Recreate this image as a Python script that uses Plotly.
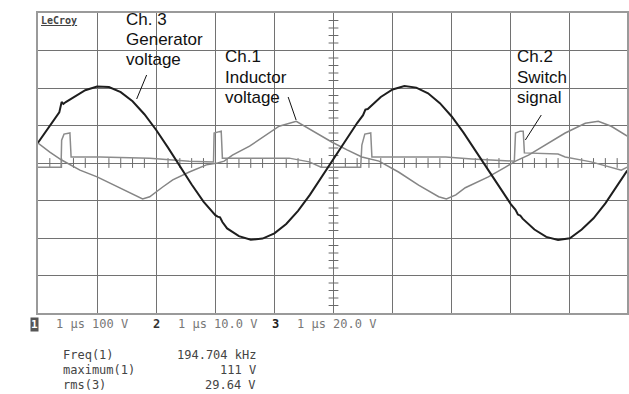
import plotly.graph_objects as go

# ---------------- canvas / graticule geometry ----------------
W, H = 629, 394
ML, MR, MT, MB = 38, 0, 13, 81
PW = W - ML - MR          # plot width in px
PH = H - MT - MB          # plot height in px (8 divisions)
DIV_PX = 59.3             # horizontal px per division
X_MAX = PW / DIV_PX       # visible divisions (grid runs past right edge)

# ---------------- data (time in µs, voltage in V) ----------------
# Ch.3 generator voltage, 20 V/div
ch3_t = [0.0, 0.2, 0.36, 0.40, 0.43, 0.47, 0.6, 0.8, 1.0, 1.2, 1.4, 1.6, 1.8,
         2.0, 2.2, 2.4, 2.6, 2.8, 3.0, 3.04, 3.08, 3.12, 3.2, 3.4, 3.6, 3.8,
         4.0, 4.2, 4.4, 4.6, 4.8, 5.0, 5.2, 5.4, 5.50, 5.54, 5.58, 5.8, 6.0,
         6.2, 6.4, 6.6, 6.8, 7.0, 7.2, 7.4, 7.6, 7.8, 8.0, 8.08, 8.12, 8.16,
         8.2, 8.4, 8.6, 8.8, 9.0, 9.2, 9.4, 9.6, 9.8, 9.97]
ch3_v = [10.8, 20.0, 27.0, 32.5, 31.5, 32.5, 35.0, 38.8, 40.8, 40.5, 37.8,
         32.9, 26.0, 17.6, 8.2, -1.7, -11.5, -20.6, -27.8, -28.6, -29.0,
         -31.5, -34.9, -39.0, -40.9, -40.3, -37.5, -32.5, -25.5, -17.0, -7.4,
         2.5, 12.3, 21.3, 25.5, 28.5, 28.8, 35.2, 39.2, 41.0, 40.2, 37.2,
         31.9, 24.8, 16.2, 6.7, -3.3, -13.0, -21.9, -25.0, -27.5, -28.0,
         -29.7, -35.5, -39.4, -41.0, -40.1, -35.5, -29.5, -21.5, -12.0, -4.0]

# Ch.1 inductor voltage, 100 V/div
ch1_t = [0.0, 0.20, 0.40, 0.71, 1.0, 1.38, 1.64, 1.77, 1.89, 2.01, 2.11, 2.28,
         2.56, 2.85, 3.04, 3.15, 3.29, 3.58, 3.83, 4.08, 4.37, 4.59, 4.76,
         4.97, 5.23, 5.48, 5.77, 6.10, 6.44, 6.78, 6.91, 7.07, 7.23, 7.62,
         7.91, 8.08, 8.30, 8.58, 8.92, 9.26, 9.48, 9.70, 9.97]
ch1_v = [53, 29, 8, -19, -37, -66, -88, -96, -90, -77, -64, -45, -24, -5, 0,
         5, 21, 45, 72, 98, 111, 90, 74, 56, 35, 16, 5, -24, -59, -90, -96,
         -85, -66, -37, -11, 5, 21, 48, 80, 106, 111, 98, 72]

# Ch.2 switch signal, 10 V/div
ch2_t = [0.0, 0.39, 0.40, 0.44, 0.54, 0.56, 1.05, 1.89, 2.56, 2.97, 2.98,
         3.10, 3.12, 4.25, 4.59, 4.79, 5.46, 5.48, 5.53, 5.63, 5.65, 6.90,
         7.34, 7.91, 8.06, 8.08, 8.16, 8.21, 8.23, 8.80, 8.92, 9.36, 9.70,
         9.87, 9.97]
ch2_v = [-1.1, -1.1, 6.1, 7.7, 8.0, 1.6, 1.6, 1.3, 0.5, 0.3, 8.0, 8.5, 1.3,
         1.3, 0.3, -1.1, -1.1, 4.8, 7.7, 8.0, 1.6, 1.6, 1.1, 0.5, 0.5, 8.0,
         8.5, 8.5, 2.7, 2.4, 1.6, 0.3, -1.3, -1.9, -1.1]

VDIV = {"ch1": 100.0, "ch2": 10.0, "ch3": 20.0}

labels_ch3 = ["Ch. 3", "Generator", "voltage"]
labels_ch1 = ["Ch.1", "Inductor", "voltage"]
labels_ch2 = ["Ch.2", "Switch", "signal"]

strip_texts = ["1 µs 100 V", "1 µs 10.0 V", "1 µs 20.0 V"]
meas_names = ["Freq(1)", "maximum(1)", "rms(3)"]
meas_values = ["194.704 kHz", "111 V", "29.64 V"]


def px_x(x):
    return (x - ML) / PW


def px_y(y):
    return (MT + PH - y) / PH


fig = go.Figure()

# center-axis minor ticks (graticule)
vt = [k * 0.2 for k in range(-19, 20) if k % 5]
ht = [k * 0.2 for k in range(1, 50) if k % 5]
fig.add_trace(go.Scatter(x=[5] * len(vt), y=vt, mode="markers", hoverinfo="skip",
                         marker=dict(symbol="line-ew", size=7,
                                     line=dict(width=1, color="#6a6a6a"))))
fig.add_trace(go.Scatter(x=ht, y=[0] * len(ht), mode="markers", hoverinfo="skip",
                         marker=dict(symbol="line-ns", size=7,
                                     line=dict(width=1, color="#6a6a6a"))))

# waveforms
fig.add_trace(go.Scatter(x=ch2_t, y=[v / VDIV["ch2"] for v in ch2_v], mode="lines",
                         line=dict(color="#8c8c8c", width=1.5)))
fig.add_trace(go.Scatter(x=ch1_t, y=[v / VDIV["ch1"] for v in ch1_v], mode="lines",
                         line=dict(color="#858585", width=1.5)))
fig.add_trace(go.Scatter(x=ch3_t, y=[v / VDIV["ch3"] for v in ch3_v], mode="lines",
                         line=dict(color="#1e1e1e", width=2)))

# trigger marker below graticule and ground marker at left
fig.add_trace(go.Scatter(x=[5], y=[-4.16], mode="markers", cliponaxis=False,
                         marker=dict(symbol="triangle-up", size=6, color="#333")))
fig.add_trace(go.Scatter(x=[-0.06], y=[0.0], mode="markers", cliponaxis=False,
                         marker=dict(symbol="triangle-right", size=6, color="#333")))

annotations = []


def ann(text, x, y, size, color, family, xanchor="left", **kw):
    d = dict(text=text, x=px_x(x), y=px_y(y), xref="paper", yref="paper",
             showarrow=False, xanchor=xanchor, yanchor="middle",
             font=dict(size=size, color=color, family=family))
    d.update(kw)
    annotations.append(d)


SANS = "Liberation Sans, Arial, sans-serif"
MONO = "DejaVu Sans Mono, monospace"

for i, t in enumerate(labels_ch3):
    ann(t, 124, 19 + 20 * i, 17, "#111", SANS)
for i, t in enumerate(labels_ch1):
    ann(t, 224, 57 + 20 * i, 17, "#111", SANS)
for i, t in enumerate(labels_ch2):
    ann(t, 517, 57 + 20 * i, 17, "#111", SANS)

ann("<b><u>LeCroy</u></b>", 39, 21, 10, "#444", MONO)

# channel strip
ann("<b>1</b>", 30, 324, 11, "#ffffff", MONO, bgcolor="#555", borderpad=0)
ann(strip_texts[0], 54, 324, 12, "#777", MONO)
ann("<b>2</b>", 151, 324, 12, "#333", MONO)
ann(strip_texts[1], 176, 324, 12, "#777", MONO)
ann("<b>3</b>", 271, 324, 12, "#222", MONO)
ann(strip_texts[2], 296, 324, 12, "#777", MONO)

for i, (n, v) in enumerate(zip(meas_names, meas_values)):
    ann(n, 61, 355 + 15 * i, 12, "#444", MONO)
    ann(v, 259, 355 + 15 * i, 12, "#444", MONO, xanchor="right")

# callout lines
callouts = [((147, 75), (137, 99)), ((289, 97), (297, 120)), ((543, 115), (527, 140))]
shapes = []
for (x0, y0), (x1, y1) in callouts:
    shapes.append(dict(type="line", xref="paper", yref="paper",
                       x0=px_x(x0), y0=px_y(y0), x1=px_x(x1), y1=px_y(y1),
                       line=dict(color="#111", width=1)))

fig.update_layout(
    width=W, height=H,
    margin=dict(l=ML, r=MR, t=MT, b=MB, pad=0),
    paper_bgcolor="white", plot_bgcolor="white",
    showlegend=False,
    annotations=annotations,
    shapes=shapes,
    xaxis=dict(range=[0, X_MAX], dtick=1, tick0=0, showgrid=True,
               gridcolor="#727272", gridwidth=1, zeroline=False,
               showticklabels=False, ticks="", showline=True, mirror=True,
               linecolor="#9a9a9a", linewidth=1.5, fixedrange=True),
    yaxis=dict(range=[-4, 4], dtick=1, tick0=0, showgrid=True,
               gridcolor="#727272", gridwidth=1, zeroline=False,
               showticklabels=False, ticks="", showline=True, mirror=True,
               linecolor="#9a9a9a", linewidth=1.5, fixedrange=True),
)

fig.write_html("out.html", include_plotlyjs=True, config={"displayModeBar": False})
